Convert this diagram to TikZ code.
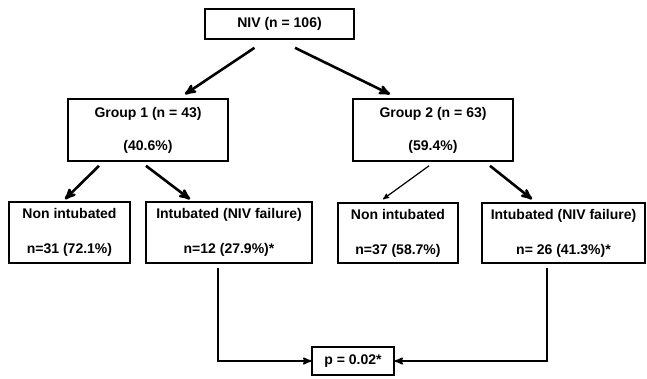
\documentclass[tikz,border=0pt]{standalone}
\usepackage{amsmath}
\usepackage{fontspec}
\setmainfont{Liberation Sans}
\usepackage{tikz}
\usetikzlibrary{arrows,calc,positioning}

\begin{document}
\begin{tikzpicture}
[
                     x =  1pt,
	                 y = -1pt,
	                ->, >= stealth',
                box/.style = { draw=black, line width=1.6pt, align=center, inner sep=0pt,
                               font=\fontsize{14}{16.8}\selectfont\bfseries },
	           thk/.style = { line width=2.6pt },
	           thn/.style = { line width=1.2pt },
	           elb/.style = { line width=1.8pt }
]

	\useasboundingbox (0,0) rectangle (647,378);

	\node (niv) at (279.5, 24  ) [box, minimum width=149, minimum height=30] {NIV (n = 106)};
	\node  (g1) at (148  , 130 ) [box, minimum width=160, minimum height=62] {Group 1 (n = 43)\\[16pt](40.6\%)};
	\node  (g2) at (433  , 130 ) [box, minimum width=160, minimum height=62] {Group 2 (n = 63)\\[16pt](59.4\%)};
	\node  (n1) at (69.5 , 232.5) [box, minimum width=121, minimum height=61] {Non intubated\\[18pt]n=31 (72.1\%)};
	\node  (i1) at (229  , 232.5) [box, minimum width=166, minimum height=61] {Intubated (NIV failure)\\[18pt]n=12 (27.9\%)*};
	\node  (n2) at (398  , 233 ) [box, minimum width=120, minimum height=60] {Non intubated\\[18pt]n=37 (58.7\%)};
	\node  (i2) at (563.5, 233 ) [box, minimum width=163, minimum height=60] {Intubated (NIV failure)\\[18pt]n= 26 (41.3\%)*};
	\node   (p) at (353  , 361 ) [box, minimum width=82 , minimum height=28] {p = 0.02*};

	\draw[thk] ([xshift=-25pt,yshift=-8pt]niv.south) -- ([xshift=37pt,yshift=4pt]g1.north);
	\draw[thk] ([xshift=15.5pt,yshift=-8pt]niv.south) -- ([xshift=-43pt,yshift=4pt]g2.north);

	\draw[thk] ([xshift=-49pt,yshift=-4pt]g1.south) -- ([xshift=-4.5pt,yshift=2pt]n1.north);
	\draw[thk] ([xshift=-2pt,yshift=-4pt]g1.south)  -- ([xshift=-39pt,yshift=2pt]i1.north);
	\draw[thn] ([xshift=-4pt,yshift=-4pt]g2.south)  -- ([xshift=-15pt,yshift=3pt]n2.north);
	\draw[thk] ([xshift=57pt,yshift=-4pt]g2.south)  -- ([xshift=-31.5pt,yshift=3pt]i2.north);

	\draw[elb] ([xshift=-11pt,yshift=-4pt]i1.south)   |- (p.west);
	\draw[elb] ([xshift=-16.5pt,yshift=-4pt]i2.south) |- (p.east);

\end{tikzpicture}
\end{document}
